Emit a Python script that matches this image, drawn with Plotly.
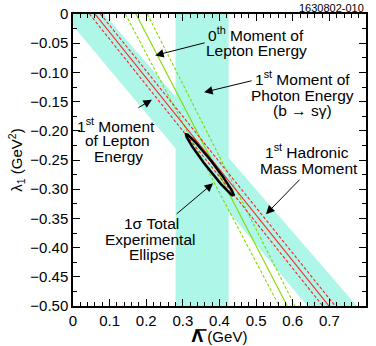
import numpy as np
import plotly.graph_objects as go

# axis ticks
x_tick_vals = [0, 0.1, 0.2, 0.3, 0.4, 0.5, 0.6, 0.7, 0.8]
x_tick_text = ["0", "0.1", "0.2", "0.3", "0.4", "0.5", "0.6", "0.7", "0.8"]
y_tick_vals = [0, -0.05, -0.10, -0.15, -0.20, -0.25, -0.30, -0.35, -0.40, -0.45, -0.50]
y_tick_text = ["0", "\u22120.05", "\u22120.10", "\u22120.15", "\u22120.20", "\u22120.25",
               "\u22120.30", "\u22120.35", "\u22120.40", "\u22120.45", "\u22120.50"]

# 1st moment of photon energy (vertical band in Lambda-bar)
photon_lo = 0.28
photon_hi = 0.425

# 1st hadronic mass moment band (polygon corners)
hadron_x = [0.0, 0.085, 0.775, 0.64, 0.0]
hadron_y = [0.0, 0.0, -0.5, -0.5, -0.02]

# lines run from lambda1 = 0 to lambda1 = -0.5
line_y = [0.0, -0.5]
# 1st moment of lepton energy (red): lower dashed, central, upper dashed
red_top = [0.045, 0.060, 0.075]
red_bottom = [0.682, 0.699, 0.716]
# 0th moment of lepton energy (green)
green_top = [0.143, 0.172, 0.203]
green_bottom = [0.563, 0.585, 0.606]

# 1 sigma ellipse: centre, half major axis vector, half minor axis vector
ell_center = (0.3737, -0.2585)
ell_major = (0.0648, -0.0526)
ell_minor = (0.0076, 0.0037)

cyan = "#aef6e8"
red = "#ff1f1f"
green = "#7fdc00"
font = "Liberation Sans, Arial, sans-serif"

fig = go.Figure()

fig.add_trace(go.Scatter(
    x=[photon_lo, photon_hi, photon_hi, photon_lo], y=[0, 0, -0.5, -0.5],
    fill="toself", fillcolor=cyan, mode="none", hoverinfo="skip"))
fig.add_trace(go.Scatter(
    x=hadron_x, y=hadron_y, fill="toself", fillcolor=cyan, mode="none", hoverinfo="skip"))

for tops, bots, col in [(green_top, green_bottom, green), (red_top, red_bottom, red)]:
    for i, (a, b) in enumerate(zip(tops, bots)):
        fig.add_trace(go.Scatter(
            x=[a, b], y=line_y, mode="lines",
            line=dict(color=col, width=1.1, dash="solid" if i == 1 else "3px,2px")))

t = np.linspace(0, 2 * np.pi, 200)
ex = ell_center[0] + ell_major[0] * np.cos(t) + ell_minor[0] * np.sin(t)
ey = ell_center[1] + ell_major[1] * np.cos(t) + ell_minor[1] * np.sin(t)
fig.add_trace(go.Scatter(x=ex, y=ey, mode="lines", line=dict(color="black", width=2.5)))

# dummy trace so the top/right tick axes get drawn
fig.add_trace(go.Scatter(x=[0.4], y=[-0.25], xaxis="x2", yaxis="y2", mode="none",
                         hoverinfo="skip"))

annotations = []

# arrows: (tail x, tail y, tip x, tip y)
arrows = [
    (0.3635, -0.0487, 0.2244, -0.0709),
    (0.4917, -0.1137, 0.358, -0.134),
    (0.6226, -0.2812, 0.527, -0.3427),
    (0.1745, -0.162, 0.2154, -0.1467),
    (0.279, -0.3444, 0.3826, -0.2897),
]
for ax, ay, x, y in arrows:
    annotations.append(dict(
        x=x, y=y, ax=ax, ay=ay, xref="x", yref="y", axref="x", ayref="y",
        text="", showarrow=True, arrowhead=2, arrowsize=1.7, arrowwidth=1,
        arrowcolor="black", standoff=0, startstandoff=0))

# text lines: (text, x, y)
labels = [
    ("0<sup>th</sup> Moment of", 0.500, -0.035),
    ("Lepton Energy", 0.502, -0.063),
    ("1<sup>st</sup> Moment of", 0.626, -0.110),
    ("Photon Energy", 0.626, -0.140),
    ("(b \u2192 s\u03b3)", 0.626, -0.165),
    ("1<sup>st</sup> Hadronic", 0.640, -0.235),
    ("Mass Moment", 0.645, -0.264),
    ("1<sup>st</sup> Moment", 0.117, -0.190),
    ("of Lepton", 0.122, -0.216),
    ("Energy", 0.125, -0.244),
    ("1\u03c3 Total", 0.215, -0.358),
    ("Experimental", 0.210, -0.386),
    ("Ellipse", 0.215, -0.411),
]
for txt, x, y in labels:
    annotations.append(dict(
        x=x, y=y, xref="x", yref="y", text=txt, showarrow=False,
        xanchor="center", yanchor="middle", font=dict(family=font, size=15.5, color="black")))

annotations.append(dict(
    x=1.0, y=1.022, xref="paper", yref="paper", text="1630802-010", showarrow=False,
    xanchor="right", yanchor="middle", font=dict(family=font, size=11, color="black")))

axis_common = dict(
    showline=True, linecolor="black", linewidth=1.5,
    ticks="inside", ticklen=7, tickwidth=1, tickcolor="black",
    showgrid=False, zeroline=False, automargin=False,
    tickfont=dict(family=font, size=15, color="black"),
)
x_minor = dict(dtick=0.02, tick0=0, ticks="inside", ticklen=4, tickcolor="black", showgrid=False)
y_minor = dict(dtick=0.025, tick0=0, ticks="inside", ticklen=4, tickcolor="black", showgrid=False)

fig.update_layout(
    width=376, height=346,
    margin=dict(l=73, r=10, t=14, b=40),
    paper_bgcolor="white", plot_bgcolor="white",
    showlegend=False,
    annotations=annotations,
    # bar over the Lambda of the x title
    shapes=[dict(type="line", xref="paper", yref="paper", x0=0.418, x1=0.456,
                 y0=-0.082, y1=-0.082, line=dict(color="black", width=1.6))],
    xaxis=dict(
        range=[0, 0.8], tickvals=x_tick_vals, ticktext=x_tick_text, minor=x_minor,
        title=dict(text="<b><span style='font-family:DejaVu Sans'>\u039b</span></b> (GeV)",
                   font=dict(family=font, size=15, color="black"), standoff=7),
        **axis_common),
    yaxis=dict(
        range=[-0.5, 0], tickvals=y_tick_vals, ticktext=y_tick_text, minor=y_minor,
        title=dict(text="\u03bb<sub>1</sub> (GeV<sup>2</sup>)", font=dict(family=font, size=15, color="black"), standoff=4),
        **axis_common),
    xaxis2=dict(range=[0, 0.8], overlaying="x", side="top", anchor="y", tickvals=x_tick_vals,
                showticklabels=False, minor=x_minor, **axis_common),
    yaxis2=dict(range=[-0.5, 0], overlaying="y", side="right", anchor="x", tickvals=y_tick_vals,
                showticklabels=False, minor=y_minor, **axis_common),
)

# drop the default page margin so the figure sits at the window's corner
fig.write_html("out.html", config={"displayModeBar": False},
               post_script="document.body.style.margin='0';")
